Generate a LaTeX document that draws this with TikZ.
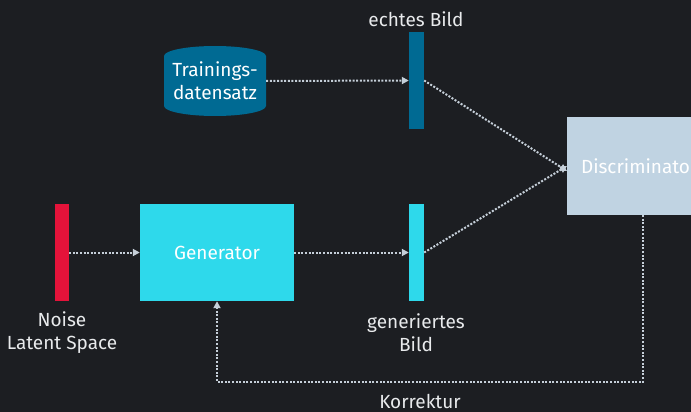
\documentclass[tikz,border=0pt]{standalone}
\usepackage{fontspec}
\setmainfont{Fira Sans}
\usetikzlibrary{arrows.meta}
\definecolor{bg}{HTML}{1C1E22}
\definecolor{noisered}{HTML}{E4133A}
\definecolor{gencyan}{HTML}{2ED9EB}
\definecolor{realblue}{HTML}{006A93}
\definecolor{discgray}{HTML}{C0D3E2}
\definecolor{linegray}{HTML}{C5CFD9}
\definecolor{txt}{HTML}{E8EAEC}
\tikzset{
  bar/.style={draw=none, minimum width=14pt, minimum height=97pt, inner sep=0pt},
  box/.style={draw=none, inner sep=0pt, text=white},
  lbl/.style={text=txt, align=center, inner sep=0pt},
  conn/.style={draw=linegray, line width=2pt, dash pattern=on 2pt off 1.6pt,
    -{Triangle[length=7pt,width=7pt]}}
}
\begin{document}
\begin{tikzpicture}[x=1pt,y=-1pt,font=\fontsize{19}{23}\selectfont]
\fill[bg] (0,0) rectangle (691,412);
\useasboundingbox (0,0) rectangle (691,412);
\begin{scope}
\clip (0,0) rectangle (691,412);
% cylinder
\fill[realblue] (164,56) -- (164,106) arc[start angle=180, end angle=0, x radius=51, y radius=10]
  -- (266,56) arc[start angle=0, end angle=-180, x radius=51, y radius=10] -- cycle;
\node[box, minimum width=102pt, minimum height=70pt, align=center] (train) at (215,81) {Trainings-\\datensatz};
% bars
\node[bar, fill=noisered] (noise) at (62,252.5) {};
\node[box, fill=gencyan, minimum width=154pt, minimum height=97pt] (gen) at (217,252.5) {Generator};
\node[bar, fill=gencyan, minimum width=15pt] (fake) at (416.5,252.5) {};
\node[bar, fill=realblue, minimum width=15pt] (real) at (416.5,80.5) {};
\node[box, fill=discgray, minimum width=144pt, minimum height=98pt, anchor=west] (disc) at (567,166) {Discriminator};
% labels
\node[lbl] (reallbl) at (416,19) {echtes Bild};
\node[lbl] (noiselbl) at (62,333) {Noise\\Latent Space};
\node[lbl] (fakelbl) at (416,333) {generiertes\\Bild};
% connectors
\draw[conn] (noise.east) -- (gen.west);
\draw[conn] (gen.east) -- (fake.west);
\draw[conn] (train.east) -- (real.west);
\draw[conn] (real.east) -- ([yshift=-5pt]disc.west);
\draw[conn] (fake.east) -- (disc.west);
\coordinate (c1) at (643,215);
\coordinate (c2) at (643,382);
\coordinate (c3) at (217,382);
\draw[conn] (c1) -- (c2) -- (c3) -- (gen.south);
\node[lbl] (korr) at (420,401) {Korrektur};
\end{scope}
\end{tikzpicture}
\end{document}
